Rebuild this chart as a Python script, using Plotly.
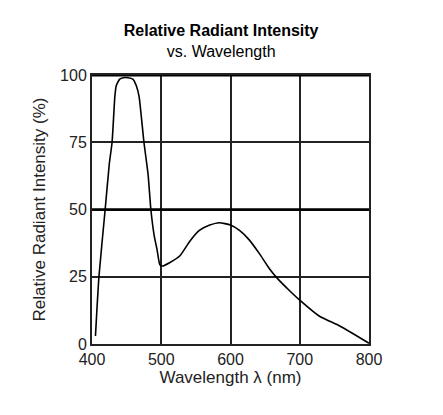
import plotly.graph_objects as go

# Curve
wavelength = [405, 410, 419, 425, 429, 433, 435, 440, 445, 452, 459, 464, 468,
              475, 481, 485, 490, 494, 498, 502, 512, 527, 541, 555, 570, 584,
              600, 613, 627, 642, 656, 668, 685, 700, 728, 757, 776, 800]
intensity = [3, 25, 50, 67, 75, 92, 96, 98.5, 99, 99, 98.5, 96, 92,
             75, 63, 50, 40, 35, 29.5, 29, 30.2, 32.8, 38.1, 42.2, 44.2, 45.1,
             44.2, 42.2, 38.7, 33.5, 28.1, 24.3, 19.9, 16.3, 10.4, 6.8, 4.0, 0.3]

x_ticks = [400, 500, 600, 700, 800]
y_ticks = [0, 25, 50, 75, 100]

fig = go.Figure()

fig.add_trace(go.Scatter(
    x=wavelength, y=intensity,
    mode='lines',
    line=dict(color='black', width=1.6, shape='spline', smoothing=0.5),
    hoverinfo='skip',
    showlegend=False
))

# heavier reference lines at 50% and 100%
fig.add_hline(y=50, line_color='black', line_width=2.5)
fig.add_hline(y=100, line_color='black', line_width=3)

fig.update_layout(
    width=435, height=407,
    margin=dict(l=84, r=74, t=67, b=71),
    paper_bgcolor='white',
    plot_bgcolor='white',
    font=dict(family='Liberation Sans, Arial, sans-serif', color='#222', size=16),
    title=dict(
        text='<b>Relative Radiant Intensity</b><br>vs. Wavelength',
        x=0.49, xanchor='center', y=1 - 28 / 407, yanchor='top',
        font=dict(size=16, color='black')
    ),
    xaxis=dict(
        range=[400, 800], tickvals=x_ticks,
        showgrid=True, gridcolor='#222', gridwidth=1.5,
        showline=True, linecolor='#222', linewidth=2, mirror=True,
        zeroline=False, ticks='', ticklen=0,
        title=dict(text='Wavelength λ (nm)', font=dict(size=17), standoff=4)
    ),
    yaxis=dict(
        range=[0, 100], tickvals=y_ticks,
        showgrid=True, gridcolor='#222', gridwidth=1.5,
        showline=True, linecolor='#222', linewidth=2, mirror=True,
        zeroline=False, ticks='', ticklen=0,
        title=dict(text='Relative Radiant Intensity (%)', font=dict(size=17), standoff=10)
    )
)

fig.write_html('out.html')
